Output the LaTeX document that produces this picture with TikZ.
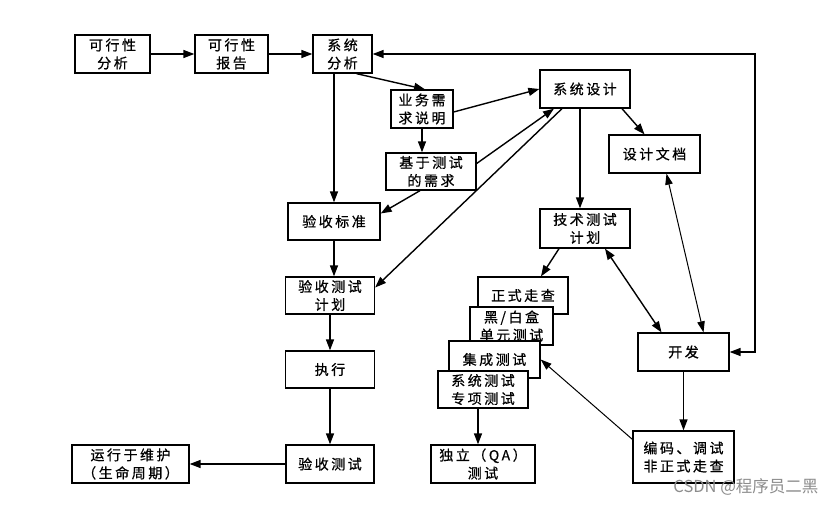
\documentclass[tikz,border=0pt]{standalone}
\usepackage{fontspec}
\setmainfont{Noto Sans CJK SC}[LetterSpace=18,FakeBold=0.6]
\newfontfamily\wmfont{Noto Sans CJK SC}
\usetikzlibrary{arrows.meta}
\tikzset{
  box/.style={draw, line width=1.3pt, fill=white, inner sep=0pt, align=center,
    font=\fontsize{14}{18}\selectfont},
  arr/.style={line width=1.4pt, -{Triangle[length=11pt,width=8pt]}},
  darr/.style={line width=1.4pt, {Triangle[length=11pt,width=8pt]}-{Triangle[length=11pt,width=8pt]}},
  thinarr/.style={line width=1pt, -{Triangle[length=11pt,width=7.5pt]}},
  thindarr/.style={line width=1pt, {Triangle[length=11pt,width=7.5pt]}-{Triangle[length=11pt,width=7.5pt]}},
}
\newcommand{\bx}[5]{\node[box, minimum width=#3pt, minimum height=#4pt] (#1) at (#2) {#5};}
\begin{document}
\begin{tikzpicture}[x=1pt,y=-1pt]
\useasboundingbox[fill=white] (0,0) rectangle (832,505);
\bx{fa}{112.5,54}{75}{38}{可行性\\分析}
\bx{fr}{231.5,54}{73}{38}{可行性\\报告}
\bx{sa}{342.5,54}{59}{38}{系统\\分析}
\bx{br}{422,109}{62}{38}{业务需\\求说明}
\bx{tr}{431,171.5}{90}{37}{基于测试\\的需求}
\bx{sd}{585,89}{90}{38}{系统设计}
\bx{dd}{654.5,154}{91}{38}{设计文档}
\bx{tp}{585,228.5}{90}{39}{技术测试\\计划}
\bx{ac}{334,221.5}{92}{37}{验收标准}
\bx{atp}{330,295.5}{89}{37}{验收测试\\计划}
\bx{ex}{330,369.5}{89}{37}{执行}
\bx{at}{330,464}{88}{38}{验收测试}
\bx{om}{130.5,464}{117}{38}{运行于维护\\（生命周期）}
\node[box, minimum width=90pt, minimum height=37pt] (wt) at (523,295.5) {\raisebox{-2pt}{正式走查}};
\bx{ut}{511.5,326}{83}{38}{黑/白盒\\单元测试}
\bx{it}{494.5,359.5}{91}{37}{集成测试}
\bx{st}{483,389.5}{90}{37}{系统测试\\专项测试}
\bx{qa}{483,464}{104}{38}{独立（QA）\\测试}
\bx{dev}{683.5,352}{91}{38}{开发}
\bx{cd}{683.5,457}{101}{52}{编码、调试\\非正式走查}
\coordinate (rt1) at (755,352);
\coordinate (rt2) at (755,54);
\draw[arr] (fa.east) -- (fr.west);
\draw[arr] (fr.east) -- (sa.west);
\draw[darr] (dev.east) -- (rt1) -- (rt2) -- (sa.east);
\draw[arr] (ac.north |- sa.south) -- (ac.north);
\draw[arr] ([xshift=14pt]sa.south) -- ([xshift=3pt]br.north);
\draw[arr] ([yshift=-3pt]br.east) -- (sd.west);
\draw[arr] (br.south) -- (br.south |- tr.north);
\draw[arr] ([yshift=8pt]tr.east) -- ([xshift=-31pt]sd.south);
\draw[arr] ([xshift=-11pt]tr.south) -- ([yshift=8pt]ac.east);
\draw[arr] ([xshift=-23pt]sd.south) -- ([yshift=8pt]atp.east);
\draw[arr] ([xshift=-5pt]sd.south) -- ([xshift=-5pt]tp.north);
\draw[arr] ([xshift=37pt]sd.south) -- ([xshift=-10pt]dd.north);
\draw[thindarr] ([xshift=12pt]dd.south) -- ([xshift=20pt]dev.north);
\draw[darr] ([xshift=20pt]tp.south) -- ([xshift=-22pt]dev.north);
\draw[arr] ([xshift=-26pt]tp.south) -- ([xshift=18pt]wt.north);
\draw[arr] (dev.south) -- (cd.north);
\draw[thinarr] ([yshift=-9pt]cd.north west) -- (it.east);
\draw[arr] ([xshift=-5pt]st.south) -- ([xshift=-5pt]qa.north);
\draw[arr] (ac.south) -- (ac.south |- atp.north);
\draw[arr] (atp.south) -- (ex.north);
\draw[arr] (ex.south) -- (at.north);
\draw[arr] (at.west) -- (om.east);
\node[text=black!45, font=\wmfont\fontsize{16.5}{16.5}\selectfont, anchor=east] (wm) at (822,487) {CSDN @程序员二黑};
\end{tikzpicture}
\end{document}
